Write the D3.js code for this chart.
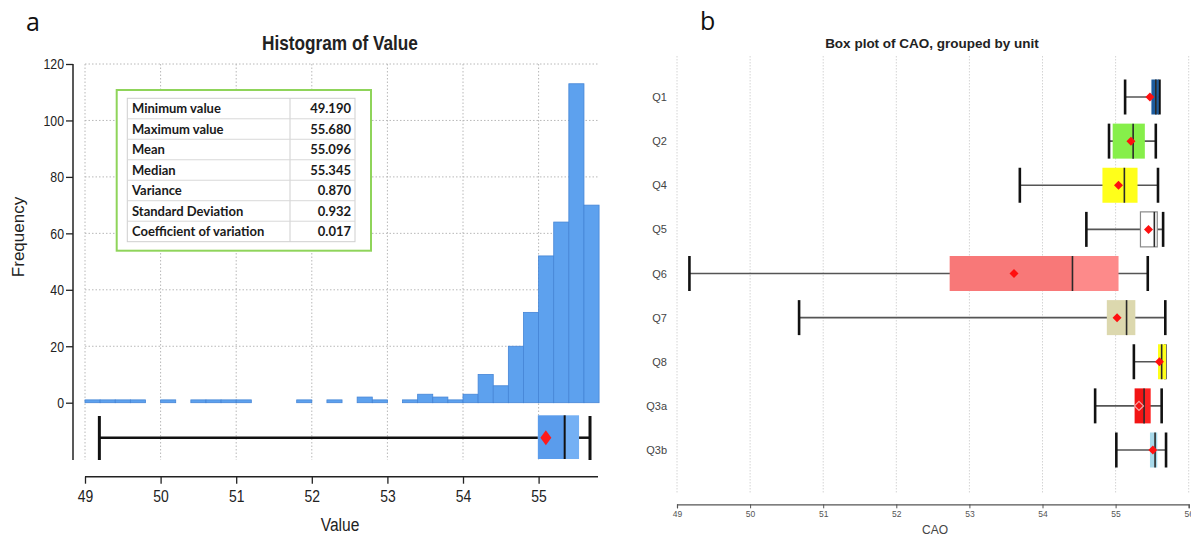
<!DOCTYPE html>
<html>
<head>
<meta charset="utf-8">
<script src="https://cdn.jsdelivr.net/npm/d3@7"></script>
<style>
  body { margin: 0; background: #fff; }
  svg { display: block; }
</style>
</head>
<body>
<div id="chart"></div>
<script>
var width = 1191;
var height = 537;

// histogram data (bins of 0.2 from 49.0)
var binStart = 49.0;
var binWidth = 0.2;
var binCounts = [1, 1, 1, 1, 0, 1, 0, 1, 1, 1, 1, 0, 0, 0, 1, 0, 1, 0, 2, 1,
  0, 1, 3, 2, 1, 3, 10, 6, 20, 32, 52, 64, 113, 70];
var histXTicks = [49, 50, 51, 52, 53, 54, 55];
var histYTicks = [0, 20, 40, 60, 80, 100, 120];

// summary box under the histogram
var overall = { min: 49.19, q1: 54.99, median: 55.345, q3: 55.535, max: 55.68, mean: 55.096 };

// stats table
var statLabels = ["Minimum value", "Maximum value", "Mean", "Median", "Variance",
  "Standard Deviation", "Coefficient of variation"];
var statValues = ["49.190", "55.680", "55.096", "55.345", "0.870", "0.932", "0.017"];

// grouped box plot
var units = ["Q1", "Q2", "Q4", "Q5", "Q6", "Q7", "Q8", "Q3a", "Q3b"];
var unitMin = [55.13, 54.91, 53.69, 54.60, 49.17, 50.67, 55.25, 54.72, 55.01];
var unitQ1 = [55.49, 54.96, 54.82, 55.34, 52.73, 54.88, 55.58, 55.26, 55.47];
var unitMedian = [55.55, 55.24, 55.12, 55.53, 54.41, 55.15, 55.63, 55.39, 55.54];
var unitQ3 = [55.59, 55.40, 55.30, 55.57, 55.04, 55.27, 55.69, 55.48, 55.57];
var unitMax = [55.60, 55.55, 55.58, 55.65, 55.44, 55.68, 55.68, 55.63, 55.69];
var unitMean = [55.47, 55.21, 55.04, 55.45, 53.61, 55.02, 55.60, 55.32, 55.51];
var unitFill = ["#1d5c9e", "#86ef4a", "#ffff1a", "#ffffff", "#f87878", "#dcd8ae", "#ffff1a", "#f21414", "#a8d9ea"];
var unitFill2 = ["#1d5c9e", "#86ef4a", "#ffff1a", "#ffffff", "#fd8a8a", "#dcd8ae", "#ffff1a", "#ff2222", "#a8d9ea"];
var boxTicks = [49, 50, 51, 52, 53, 54, 55, 56];

var arial = "'Liberation Sans', Arial, sans-serif";
var squeeze = 0.82; // stand-in for the narrow font of panel a

var svg = d3.select("#chart")
  .append("svg")
  .attr("width", width)
  .attr("height", height);

svg.append("rect").attr("width", width).attr("height", height).attr("fill", "#fff");

function diamond(cx, cy, w, h) {
  return "M" + cx + "," + (cy - h / 2) + "L" + (cx + w / 2) + "," + cy +
    "L" + cx + "," + (cy + h / 2) + "L" + (cx - w / 2) + "," + cy + "Z";
}

// narrow text centred on x,y
function narrowLabel(parent, x, y, txt, size, bold) {
  parent.append("g")
    .attr("transform", "translate(" + x + "," + y + ") scale(" + squeeze + ",1)")
    .append("text")
    .attr("text-anchor", "middle")
    .attr("font-family", arial)
    .attr("font-weight", bold ? "bold" : "normal")
    .attr("font-size", size)
    .attr("fill", "#222")
    .text(txt);
}

// ================= panel a =================
var xH = d3.scaleLinear().domain([49, 56]).range([85, 614.2]);
var yH = d3.scaleLinear().domain([0, 120]).range([402.7, 64]);
var gA = svg.append("g");

// grid
gA.selectAll(".hgrid")
  .data(histYTicks.slice(1))
  .enter()
  .append("line")
  .attr("x1", xH(49)).attr("x2", 598)
  .attr("y1", function (d) { return yH(d); })
  .attr("y2", function (d) { return yH(d); })
  .attr("stroke", "#b8b8b8")
  .attr("stroke-width", 1)
  .attr("stroke-dasharray", "1.5,2");

gA.selectAll(".vgrid")
  .data(histXTicks)
  .enter()
  .append("line")
  .attr("x1", function (d) { return xH(d); })
  .attr("x2", function (d) { return xH(d); })
  .attr("y1", 64).attr("y2", 460)
  .attr("stroke", "#b8b8b8")
  .attr("stroke-width", 1)
  .attr("stroke-dasharray", "1.5,2");

// bars
var bars = binCounts.map(function (c, i) { return { x0: binStart + i * binWidth, count: c }; })
  .filter(function (d) { return d.count > 0; });

gA.selectAll("rect.bar")
  .data(bars)
  .enter()
  .append("rect")
  .attr("class", "bar")
  .attr("x", function (d) { return xH(d.x0); })
  .attr("width", function (d) { return xH(d.x0 + binWidth) - xH(d.x0); })
  .attr("y", function (d) { return yH(d.count); })
  .attr("height", function (d) { return yH(0) - yH(d.count); })
  .attr("fill", "#5da1ee")
  .attr("stroke", "#4585d6")
  .attr("stroke-width", 0.8);

// summary boxplot under histogram
var bpY = 437.7;
gA.append("line")
  .attr("x1", xH(overall.min)).attr("x2", xH(overall.q1))
  .attr("y1", bpY).attr("y2", bpY)
  .attr("stroke", "#111").attr("stroke-width", 2.5);
gA.append("line")
  .attr("x1", xH(overall.q3)).attr("x2", xH(overall.max))
  .attr("y1", bpY).attr("y2", bpY)
  .attr("stroke", "#111").attr("stroke-width", 2.5);
gA.selectAll(".cap")
  .data([overall.min, overall.max])
  .enter()
  .append("line")
  .attr("x1", function (d) { return xH(d); })
  .attr("x2", function (d) { return xH(d); })
  .attr("y1", 416).attr("y2", 460)
  .attr("stroke", "#111").attr("stroke-width", 3);
gA.append("rect")
  .attr("x", xH(overall.q1)).attr("y", 415.3)
  .attr("width", xH(overall.median) - xH(overall.q1)).attr("height", 43.7)
  .attr("fill", "#5a9cec");
gA.append("rect")
  .attr("x", xH(overall.median)).attr("y", 415.3)
  .attr("width", xH(overall.q3) - xH(overall.median)).attr("height", 43.7)
  .attr("fill", "#74b0f4");
gA.append("line")
  .attr("x1", xH(overall.median)).attr("x2", xH(overall.median))
  .attr("y1", 415.3).attr("y2", 459)
  .attr("stroke", "#111").attr("stroke-width", 2);
gA.append("path")
  .attr("d", diamond(xH(overall.mean), bpY, 11, 15))
  .attr("fill", "#ff1a1a");

// y axis
var yAxis = d3.axisLeft(yH).tickValues(histYTicks).tickFormat(d3.format("d")).tickSize(7).tickPadding(4);
var gy = gA.append("g").attr("transform", "translate(73,0)").call(yAxis);
gy.select(".domain").remove();
gy.selectAll("line").attr("stroke", "#222").attr("stroke-width", 1.3);
gy.selectAll("text")
  .attr("font-family", arial).attr("font-size", 15).attr("fill", "#222")
  .attr("transform", "scale(" + squeeze + ",1)");
gA.append("line").attr("x1", 73).attr("x2", 73).attr("y1", 64).attr("y2", 460)
  .attr("stroke", "#222").attr("stroke-width", 1.5);

// x axis
var xAxis = d3.axisBottom(xH).tickValues(histXTicks).tickFormat(d3.format("d")).tickSize(7).tickPadding(6);
var gx = gA.append("g").attr("transform", "translate(0,476.7)").call(xAxis);
gx.select(".domain").remove();
gx.selectAll("line").attr("stroke", "#222").attr("stroke-width", 1.3);
gx.selectAll("text")
  .attr("font-family", arial).attr("font-size", 17).attr("fill", "#222")
  .attr("transform", "scale(" + squeeze + ",1)");
gA.append("line").attr("x1", xH(49)).attr("x2", 598).attr("y1", 476.7).attr("y2", 476.7)
  .attr("stroke", "#222").attr("stroke-width", 1.5);

// labels
narrowLabel(gA, 340, 50, "Histogram of Value", 21, true);
narrowLabel(gA, 340, 531, "Value", 19, false);
gA.append("text").attr("transform", "translate(24,237) rotate(-90)").attr("text-anchor", "middle")
  .attr("font-family", arial).attr("font-size", 17).attr("fill", "#222").text("Frequency");
gA.append("text").attr("x", 26).attr("y", 31)
  .attr("font-family", "'Open Sans', sans-serif").attr("font-size", 25).attr("fill", "#111").text("a");

// stats table
var tbl = gA.append("g");
tbl.append("rect").attr("x", 116.7).attr("y", 90).attr("width", 254.3).attr("height", 160.7)
  .attr("fill", "#fff").attr("stroke", "#8fd45a").attr("stroke-width", 2);
var rowH = (241.7 - 98.3) / statLabels.length;
tbl.append("rect").attr("x", 127.3).attr("y", 98.3).attr("width", 227.7).attr("height", 143.4)
  .attr("fill", "none").attr("stroke", "#cfcfcf").attr("stroke-width", 1);
tbl.append("line").attr("x1", 290).attr("x2", 290).attr("y1", 98.3).attr("y2", 241.7)
  .attr("stroke", "#cfcfcf");
tbl.selectAll(".rowline")
  .data(statLabels.slice(1))
  .enter()
  .append("line")
  .attr("x1", 127.3).attr("x2", 355)
  .attr("y1", function (d, i) { return 98.3 + (i + 1) * rowH; })
  .attr("y2", function (d, i) { return 98.3 + (i + 1) * rowH; })
  .attr("stroke", "#d8d8d8");
tbl.selectAll(".lab")
  .data(statLabels)
  .enter()
  .append("text")
  .attr("x", 132)
  .attr("y", function (d, i) { return 98.3 + i * rowH + 15; })
  .attr("font-family", "Lato, 'Open Sans', sans-serif").attr("font-weight", "bold")
  .attr("font-size", 13).attr("fill", "#1a1a1a")
  .text(function (d) { return d; });
tbl.selectAll(".val")
  .data(statValues)
  .enter()
  .append("text")
  .attr("x", 351)
  .attr("y", function (d, i) { return 98.3 + i * rowH + 15; })
  .attr("text-anchor", "end")
  .attr("font-family", "Lato, 'Open Sans', sans-serif").attr("font-weight", "bold")
  .attr("font-size", 13).attr("fill", "#1a1a1a")
  .text(function (d) { return d; });

// ================= panel b =================
var xB = d3.scaleLinear().domain([49, 56]).range([677, 1188.7]);
var yB = d3.scalePoint().domain(units).range([97, 450]);
var gB = svg.append("g");
var bh = 35;

gB.selectAll(".vgrid")
  .data(boxTicks)
  .enter()
  .append("line")
  .attr("x1", function (d) { return xB(d); })
  .attr("x2", function (d) { return xB(d); })
  .attr("y1", 56).attr("y2", 493)
  .attr("stroke", "#d4d4d4")
  .attr("stroke-width", 1)
  .attr("stroke-dasharray", "1.5,1.5");

var groups = units.map(function (u, i) {
  return {
    unit: u, min: unitMin[i], q1: unitQ1[i], median: unitMedian[i], q3: unitQ3[i],
    max: unitMax[i], mean: unitMean[i], fill: unitFill[i], fill2: unitFill2[i]
  };
});

var gg = gB.selectAll(".grp")
  .data(groups)
  .enter()
  .append("g")
  .attr("transform", function (d) { return "translate(0," + yB(d.unit) + ")"; });

gg.append("line")
  .attr("x1", function (d) { return xB(d.min); })
  .attr("x2", function (d) { return xB(d.max); })
  .attr("y1", 0).attr("y2", 0)
  .attr("stroke", "#555").attr("stroke-width", 1.6);
gg.selectAll(".cap")
  .data(function (d) { return [d.min, d.max]; })
  .enter()
  .append("line")
  .attr("x1", function (d) { return xB(d); })
  .attr("x2", function (d) { return xB(d); })
  .attr("y1", -bh / 2).attr("y2", bh / 2)
  .attr("stroke", "#111").attr("stroke-width", 2.6);
gg.append("rect")
  .attr("x", function (d) { return xB(d.q1); })
  .attr("y", -bh / 2)
  .attr("width", function (d) { return xB(d.median) - xB(d.q1); })
  .attr("height", bh)
  .attr("fill", function (d) { return d.fill; });
gg.append("rect")
  .attr("x", function (d) { return xB(d.median); })
  .attr("y", -bh / 2)
  .attr("width", function (d) { return xB(d.q3) - xB(d.median); })
  .attr("height", bh)
  .attr("fill", function (d) { return d.fill2; });
gg.filter(function (d) { return d.unit === "Q5"; })
  .append("rect")
  .attr("x", function (d) { return xB(d.q1); })
  .attr("y", -bh / 2)
  .attr("width", function (d) { return xB(d.q3) - xB(d.q1); })
  .attr("height", bh)
  .attr("fill", "none").attr("stroke", "#8a8a8a").attr("stroke-width", 1.2);
gg.append("line")
  .attr("x1", function (d) { return xB(d.median); })
  .attr("x2", function (d) { return xB(d.median); })
  .attr("y1", -bh / 2).attr("y2", bh / 2)
  .attr("stroke", "#2a2a2a").attr("stroke-width", 1.6);
gg.append("path")
  .attr("d", function (d) { return diamond(xB(d.mean), 0, 9, 9); })
  .attr("fill", function (d) { return d.unit === "Q3a" ? "none" : "#ff1010"; })
  .attr("stroke", function (d) { return d.unit === "Q3a" ? "#f6a5a5" : "none"; })
  .attr("stroke-width", 1.2);

// category labels
gB.selectAll(".ulab")
  .data(units)
  .enter()
  .append("text")
  .attr("x", 667)
  .attr("y", function (d) { return yB(d) + 4; })
  .attr("text-anchor", "end")
  .attr("font-family", arial).attr("font-size", 11).attr("fill", "#444")
  .text(function (d) { return d; });

// axis
var bAxis = d3.axisBottom(xB).tickValues(boxTicks).tickFormat(d3.format("d")).tickSize(4).tickPadding(3);
var gbx = gB.append("g").attr("transform", "translate(0,504.3)").call(bAxis);
gbx.select(".domain").attr("stroke", "#555").attr("stroke-width", 1.2);
gbx.selectAll("line").attr("stroke", "#555");
gbx.selectAll("text").attr("font-family", arial).attr("font-size", 8.5).attr("fill", "#555");

gB.append("text").attr("x", 935).attr("y", 534).attr("text-anchor", "middle")
  .attr("font-family", arial).attr("font-size", 12).attr("fill", "#444").text("CAO");
gB.append("text").attr("x", 932).attr("y", 48).attr("text-anchor", "middle")
  .attr("font-family", arial).attr("font-weight", "bold").attr("font-size", 13.5)
  .attr("fill", "#222").text("Box plot of CAO, grouped by unit");
gB.append("text").attr("x", 700).attr("y", 30)
  .attr("font-family", "'Open Sans', sans-serif").attr("font-size", 25).attr("fill", "#111").text("b");
</script>
</body>
</html>
